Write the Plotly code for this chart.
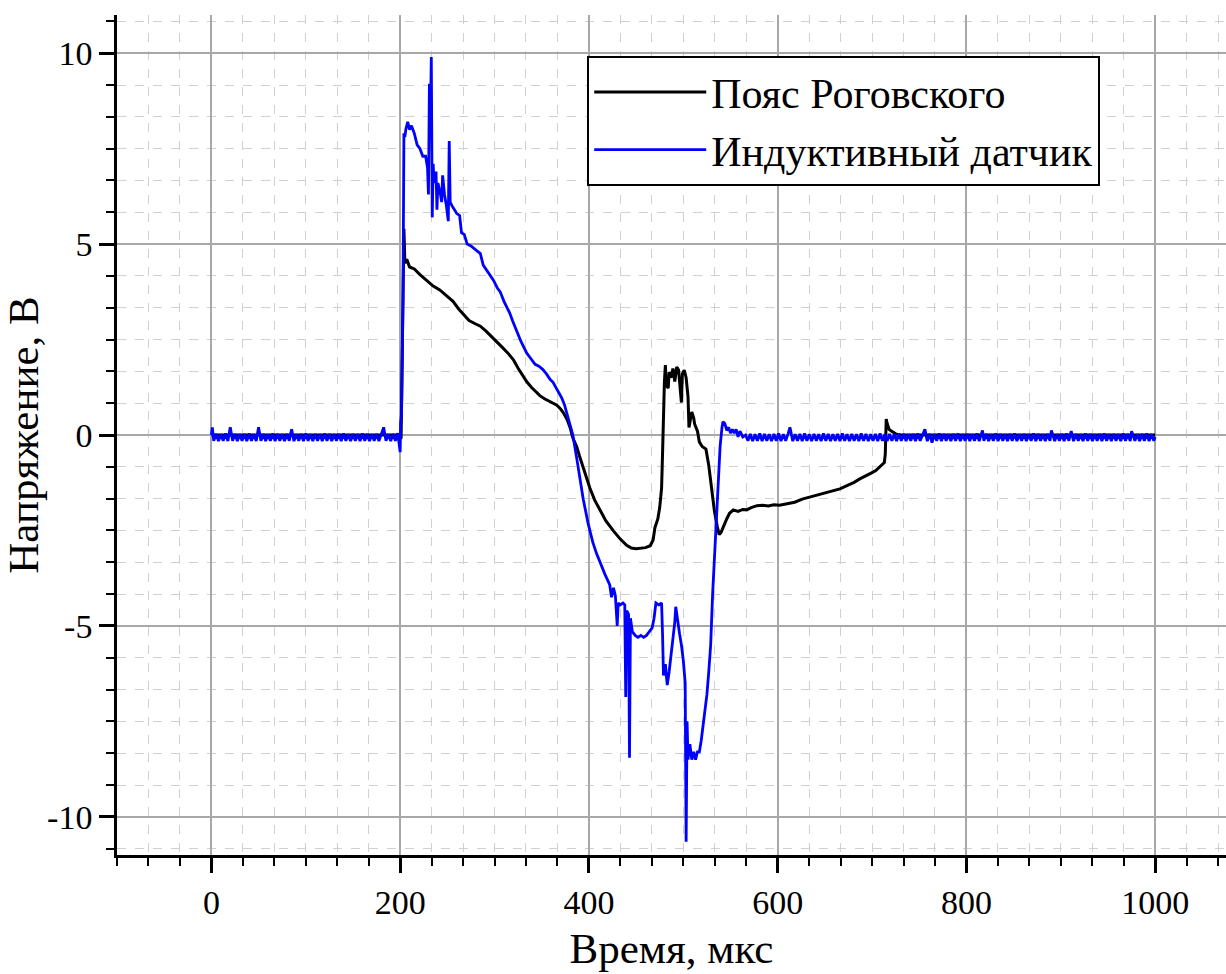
import plotly.graph_objects as go

# ---------------- data ----------------
# Пояс Роговского (black)
rog_t = [0, 100, 200, 201, 202, 204, 205, 207, 210, 215, 221, 228, 235, 242, 249, 256, 262, 267,
         273, 279, 285, 291, 297, 302, 308, 314, 320, 325, 330, 334, 339, 344, 348, 353, 358, 362,
         366, 370, 373, 377, 380, 383, 387, 390, 395, 401, 406, 412, 418, 426, 433, 440, 445, 450,
         455, 460, 465, 468, 470, 473, 475, 477, 478, 479, 480, 481, 482, 484, 485, 487, 489, 491,
         493, 495, 497, 498, 499, 501, 503, 505, 506, 507, 509, 511, 512, 515, 517, 520, 524, 527,
         530, 533, 536, 538, 540, 543, 546, 549, 553, 558, 563, 567, 572, 578, 584, 590, 596, 602,
         610, 618, 626, 634, 642, 650, 658, 666, 674, 681, 687, 693, 699, 704, 709, 713, 714, 715,
         716, 718, 720, 725, 730, 800, 900, 1000]
rog_v = [0.0, 0.0, 0.0, -0.1, 2.0, 5.4, 4.5, 4.6, 4.4, 4.35, 4.2, 4.05, 3.9, 3.8, 3.65, 3.5, 3.3, 3.15,
         3.0, 2.92, 2.85, 2.72, 2.58, 2.45, 2.3, 2.15, 1.97, 1.75, 1.55, 1.4, 1.25, 1.12, 1.03, 0.95, 0.88, 0.84,
         0.78, 0.68, 0.58, 0.4, 0.2, -0.08, -0.3, -0.55, -0.95, -1.39, -1.7, -1.96, -2.25, -2.51, -2.72, -2.89, -2.96, -2.98,
         -2.96, -2.95, -2.9, -2.75, -2.42, -2.2, -1.9, -1.39, -0.5, 0.6, 1.4, 1.83, 1.3, 1.23, 1.65, 1.5, 1.74, 1.4,
         1.78, 1.7, 1.0, 0.85, 1.6, 1.7, 1.5, 1.0, 0.2, 0.38, 0.6, 0.45, 0.29, 0.1, -0.18, -0.3, -0.37, -0.8,
         -1.4, -2.0, -2.4, -2.61, -2.55, -2.35, -2.2, -2.05, -1.96, -2.0, -1.95, -1.96, -1.9, -1.85, -1.84, -1.86, -1.83, -1.84,
         -1.8, -1.76, -1.68, -1.63, -1.58, -1.52, -1.46, -1.41, -1.32, -1.24, -1.15, -1.08, -1.0, -0.93, -0.82, -0.72, -0.5, 0.42,
         0.3, 0.15, 0.11, 0.03, 0.0, 0.0, 0.0, 0.0]

# Индуктивный датчик (blue): noisy baseline before the pulse (0..198 us)
ind_pre_t = [0, 1, 2.5, 5, 7.5, 10, 12.5, 15, 17.5, 20, 22.5, 25, 27.5, 30, 32.5, 35, 37.5, 40, 42.5, 45,
             47.5, 50, 52.5, 55, 57.5, 60, 62.5, 65, 67.5, 70, 72.5, 75, 77.5, 80, 82.5, 85, 87.5, 90, 92.5, 95,
             97.5, 100, 102.5, 105, 107.5, 110, 112.5, 115, 117.5, 120, 122.5, 125, 127.5, 130, 132.5, 135, 137.5, 140, 142.5, 145,
             147.5, 150, 152.5, 155, 157.5, 160, 162.5, 165, 167.5, 170, 172.5, 175, 177.5, 180, 182.5, 185, 187.5, 190, 192.5, 195,
             197.5]
ind_pre_v = [0.0, 0.2, -0.15, 0.03, -0.16, 0.02, -0.15, 0.04, -0.16, 0.2, -0.15, 0.03, -0.16, 0.02, -0.15, 0.03, -0.16, 0.04, -0.15, 0.02,
             -0.16, 0.2, -0.15, 0.03, -0.16, 0.02, -0.15, 0.04, -0.16, 0.03, -0.15, 0.02, -0.16, 0.03, -0.15, 0.15, -0.16, 0.02, -0.15, 0.03,
             -0.16, 0.04, -0.15, 0.02, -0.16, 0.03, -0.15, 0.02, -0.16, 0.04, -0.15, 0.03, -0.16, 0.02, -0.15, 0.03, -0.16, 0.04, -0.15, 0.02,
             -0.16, 0.03, -0.15, 0.02, -0.16, 0.04, -0.15, 0.03, -0.16, 0.02, -0.15, 0.03, -0.16, 0.04, 0.2, -0.15, 0.02, -0.16, 0.03, -0.15,
             0.05]

# pulse region (200..566 us)
ind_pulse_t = [200, 200.5, 201.5, 203, 204, 205, 206, 208, 210, 212, 215, 218, 221, 224, 227, 229, 230,
               231, 232, 233, 234, 235, 236, 238, 239, 240, 242, 244, 245, 247, 249, 251, 252, 253, 255, 260, 263,
               265, 268, 271, 275, 280, 285, 288, 292, 295, 299, 303, 306, 310, 313, 316, 319, 322, 325, 328, 331,
               334, 337, 340, 343, 347, 351, 355, 359, 362, 365, 368, 371, 374, 377, 380, 383, 388, 394, 399, 404,
               408, 412, 417, 422, 424, 426, 428, 430, 431, 433, 436, 438, 439, 440, 442, 443, 444, 446, 449, 452,
               455, 458, 461, 464, 467, 469, 471, 474, 477, 478, 479, 481, 483, 485, 487, 489, 491, 492, 494, 496,
               498, 500, 502, 503, 504, 505, 507, 509, 511, 513, 515, 517, 519, 521, 523, 525, 527, 529, 531, 533,
               535, 537, 539, 541, 542, 544, 546, 548, 550, 552, 554, 556, 558, 560, 563, 566]
ind_pulse_v = [-0.45, 0.3, 0.55, 3.5, 7.9, 7.8, 8.0, 8.2, 8.0, 8.1, 7.9, 7.6, 7.5, 7.3, 7.3, 7.0, 6.3,
               9.2, 8.0, 9.9, 5.7, 7.1, 6.6, 6.9, 5.9, 6.6, 6.4, 6.1, 6.8, 6.3, 6.0, 5.6, 7.7, 6.1, 6.0, 5.8, 5.75,
               5.3, 5.25, 5.0, 4.95, 4.85, 4.75, 4.45, 4.3, 4.2, 4.05, 3.85, 3.75, 3.5, 3.35, 3.2, 3.0, 2.8, 2.6, 2.45, 2.3,
               2.15, 2.05, 1.95, 1.85, 1.8, 1.72, 1.6, 1.45, 1.38, 1.25, 1.12, 0.98, 0.8, 0.55, 0.25, 0.0, -0.75, -1.68, -2.3, -2.8,
               -3.1, -3.36, -3.65, -3.92, -4.25, -4.0, -4.2, -5.0, -4.4, -4.45, -4.4, -4.45, -6.86, -4.6, -4.7, -8.45, -4.8, -5.15, -5.25, -5.3,
               -5.25, -5.3, -5.25, -5.15, -5.05, -4.8, -4.4, -4.45, -4.4, -5.2, -6.3, -6.0, -6.55, -6.2, -5.8, -5.4, -4.9, -4.5, -4.9, -5.2,
               -5.5, -5.9, -6.5, -10.65, -7.5, -8.5, -8.1, -8.5, -8.3, -8.5, -8.3, -8.3, -8.0, -7.6, -7.3, -6.8, -6.2, -5.5, -4.2, -3.2,
               -2.05, -1.0, -0.3, 0.2, 0.35, 0.3, 0.12, 0.2, 0.05, 0.15, 0.05, 0.15, -0.05, 0.1, -0.05, 0.0]

# noisy baseline after the pulse (568.5..1000 us)
ind_post_t = [568.5, 571, 573.5, 576, 578.5, 581, 583.5, 586, 588.5, 591, 593.5, 596, 598.5, 601, 603.5, 606, 608.5, 611, 613, 616,
              618.5, 621, 623.5, 626, 628.5, 631, 633.5, 636, 638.5, 641, 643.5, 646, 648.5, 651, 653.5, 656, 658.5, 661, 663.5, 666,
              668.5, 671, 673.5, 676, 678.5, 681, 683.5, 686, 688.5, 691, 693.5, 696, 698.5, 701, 703.5, 706, 708.5, 711, 713.5, 716,
              718.5, 721, 723.5, 726, 728.5, 731, 733.5, 736, 738.5, 741, 743.5, 746, 748.5, 751, 753.5, 756, 758.5, 761, 763.5, 766,
              768.5, 771, 773.5, 776, 778.5, 781, 783.5, 786, 788.5, 791, 793.5, 796, 798.5, 801, 803.5, 806, 808.5, 811, 813.5, 817,
              818.5, 821, 823.5, 826, 828.5, 831, 833.5, 836, 838.5, 841, 843.5, 846, 848.5, 851, 853.5, 856, 858.5, 861, 863.5, 866,
              868.5, 871, 873.5, 876, 878.5, 881, 883.5, 886, 888.5, 890, 893.5, 896, 898.5, 901, 903.5, 906, 908.5, 911, 913.5, 916,
              918.5, 921, 923.5, 926, 928.5, 931, 933.5, 936, 938.5, 941, 943.5, 946, 948.5, 951, 953.5, 956, 958.5, 961, 963.5, 966,
              968.5, 971, 973.5, 975, 978.5, 981, 983.5, 986, 988.5, 991, 993.5, 996, 998.5, 1000]
ind_post_v = [-0.15, 0.03, -0.16, 0.02, -0.15, 0.04, -0.16, 0.03, -0.15, 0.02, -0.16, 0.03, -0.15, 0.04, -0.16, 0.02, -0.15, 0.03, 0.2, -0.16,
              0.02, -0.15, 0.03, -0.16, 0.04, -0.15, 0.02, -0.16, 0.03, -0.15, 0.02, -0.16, 0.04, -0.15, 0.03, -0.16, 0.02, -0.15, 0.03, -0.16,
              0.04, -0.15, 0.02, -0.16, 0.03, -0.15, 0.02, -0.16, 0.04, -0.15, 0.03, -0.16, 0.02, -0.15, 0.03, -0.16, 0.04, -0.15, 0.02, -0.16,
              0.03, -0.15, 0.02, -0.16, 0.04, -0.15, 0.03, -0.16, 0.02, -0.15, 0.03, -0.16, 0.04, -0.15, 0.02, 0.15, -0.16, 0.03, -0.2, 0.02,
              -0.15, 0.04, -0.16, 0.03, -0.15, 0.02, -0.16, 0.03, -0.15, 0.04, -0.16, 0.02, -0.15, 0.03, -0.16, 0.02, -0.15, 0.04, -0.16, 0.12,
              -0.15, 0.03, -0.16, 0.02, -0.15, 0.04, -0.16, 0.03, -0.15, 0.02, -0.16, 0.03, -0.15, 0.04, -0.16, 0.02, -0.15, 0.03, -0.16, 0.02,
              -0.15, 0.04, -0.16, 0.03, -0.15, 0.02, -0.16, 0.03, -0.15, 0.12, -0.16, 0.02, -0.15, 0.03, -0.16, 0.04, -0.15, 0.1, -0.16, 0.03,
              -0.15, 0.02, -0.16, 0.04, -0.15, 0.03, -0.16, 0.02, -0.15, 0.03, -0.16, 0.04, -0.15, 0.02, -0.16, 0.03, -0.15, 0.02, -0.16, 0.04,
              -0.15, 0.03, -0.16, 0.1, -0.15, 0.02, -0.16, 0.03, -0.15, 0.04, -0.16, 0.02, -0.15, -0.05]

ind_t = ind_pre_t + ind_pulse_t + ind_post_t
ind_v = ind_pre_v + ind_pulse_v + ind_post_v

x_ticks = [0, 200, 400, 600, 800, 1000]
y_ticks = [-10, -5, 0, 5, 10]
y_tick_text = ["-10", "-5", "0", "5", "10"]

FONT = '"Liberation Serif", "Times New Roman", Times, serif'

fig = go.Figure()
fig.add_trace(go.Scatter(x=rog_t, y=rog_v, mode="lines", name="Пояс Роговского",
                         line=dict(color="black", width=3)))
fig.add_trace(go.Scatter(x=ind_t, y=ind_v, mode="lines", name="Индуктивный датчик",
                         line=dict(color="#0000ff", width=2.8)))

axis_common = dict(
    showline=True, linecolor="black", linewidth=2.5,
    ticks="outside", ticklen=15, tickwidth=2.5, tickcolor="black",
    showgrid=True, gridcolor="#a8a8a8", gridwidth=1.5,
    zeroline=False,
    tickfont=dict(family=FONT, size=34, color="black"),
    mirror=False,
)

fig.update_xaxes(
    **axis_common,
    range=[-100, 1075],
    tickvals=x_ticks,
    title=dict(text="Время, мкс", font=dict(family=FONT, size=43, color="black"), standoff=14),
    minor=dict(dtick=200 / 6, tick0=0, ticks="outside", ticklen=8, tickwidth=2, tickcolor="black",
               showgrid=True, gridcolor="#d0d0d0", griddash="dash", gridwidth=1),
)
fig.update_yaxes(
    **axis_common,
    range=[-11, 11],
    tickvals=y_ticks,
    ticktext=y_tick_text,
    title=dict(text="Напряжение, В", font=dict(family=FONT, size=43, color="black"), standoff=0),
    minor=dict(dtick=5 / 6, tick0=0, ticks="outside", ticklen=8, tickwidth=2, tickcolor="black",
               showgrid=True, gridcolor="#d0d0d0", griddash="dash", gridwidth=1),
)

fig.update_layout(
    width=1226, height=974,
    margin=dict(l=117, r=0, t=15, b=119, autoexpand=False),
    paper_bgcolor="white", plot_bgcolor="white",
    font=dict(family=FONT, color="black"),
    legend=dict(x=0.424, y=0.951, xanchor="left", yanchor="top",
                bgcolor="white", bordercolor="black", borderwidth=2,
                font=dict(family=FONT, size=42, color="black"),
                itemwidth=112, tracegroupgap=0),
    showlegend=True,
)

fig.write_html("out.html")
